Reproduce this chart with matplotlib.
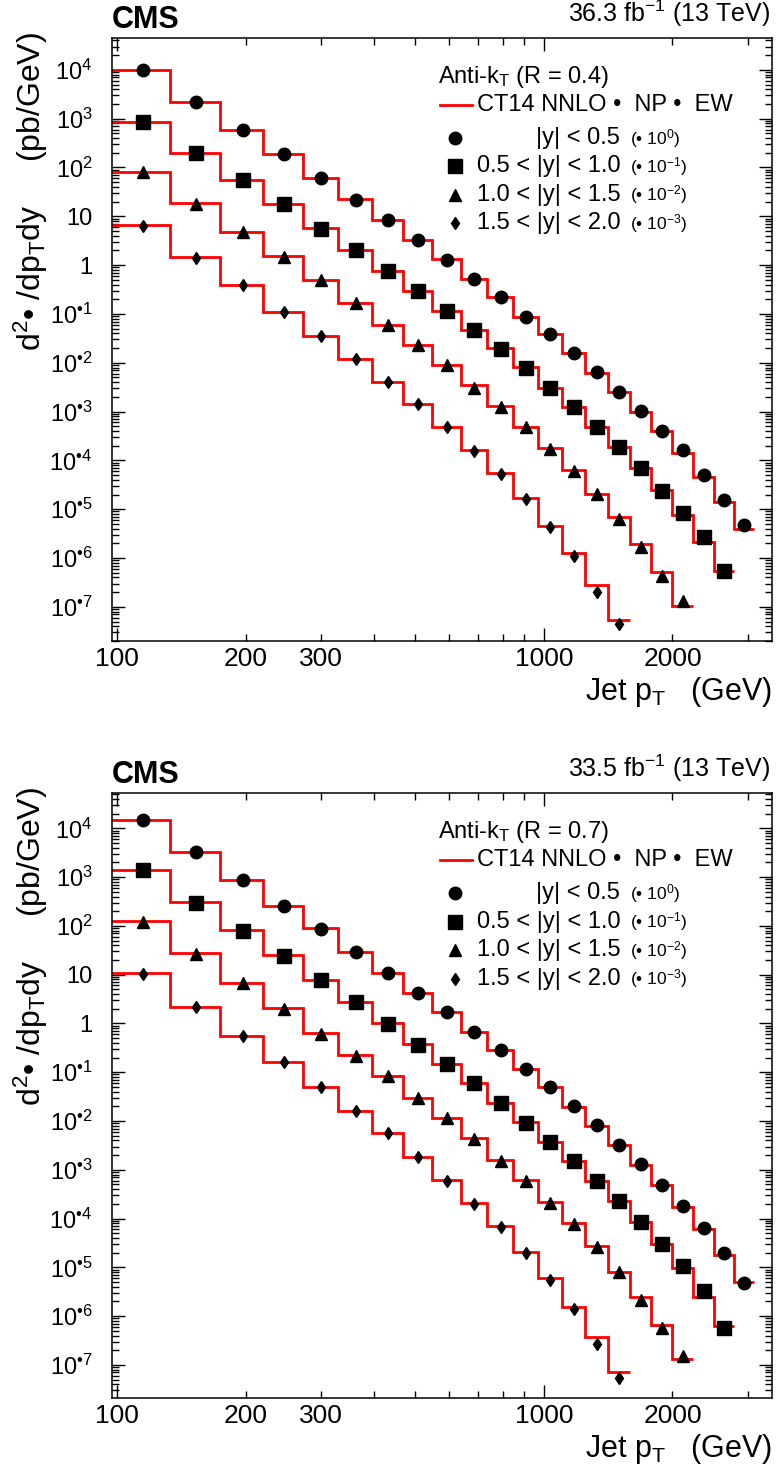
import numpy as np
import matplotlib.pyplot as plt
from matplotlib.lines import Line2D
from matplotlib.ticker import FixedLocator, FixedFormatter, LogLocator, NullFormatter

plt.rcParams['font.family'] = ['Liberation Sans', 'DejaVu Sans']
plt.rcParams['mathtext.fontset'] = 'custom'
plt.rcParams['mathtext.rm'] = 'Liberation Sans'
plt.rcParams['mathtext.it'] = 'Liberation Sans:italic'
plt.rcParams['mathtext.bf'] = 'Liberation Sans:bold'

# jet pT bin edges (GeV)
pt_edges = [97, 133, 174, 220, 272, 330, 395, 468, 548, 638, 737, 846, 967,
            1101, 1248, 1410, 1588, 1784, 2000, 2238, 2500, 2787, 3103]

# R = 0.4, theory (CT14 NNLO x NP x EW), already scaled by 10^-k
th04_y0 = [9.7e3, 2.24e3, 590, 190, 62, 22.4, 8.4, 3.28, 1.32, 0.52, 0.226, 0.088, 0.039,
           0.0161, 6.3e-3, 2.5e-3, 1.0e-3, 4.0e-4, 1.44e-4, 4.6e-5, 1.43e-5, 3.9e-6]
th04_y1 = [860, 202, 56, 17.7, 5.7, 2.05, 0.76, 0.30, 0.117, 0.047, 0.0198, 8.1e-3, 3.1e-3,
           1.24e-3, 4.9e-4, 1.9e-4, 6.9e-5, 2.45e-5, 7.6e-6, 2.16e-6, 5.5e-7]
th04_y2 = [82, 18.5, 4.85, 1.55, 0.50, 0.171, 0.060, 0.0235, 9.2e-3, 3.45e-3, 1.30e-3, 4.9e-4,
           1.77e-4, 6.35e-5, 2.1e-5, 7.0e-6, 1.9e-6, 5.1e-7, 1.05e-7]
th04_y3 = [6.6, 1.44, 0.40, 0.111, 0.036, 0.012, 4.1e-3, 1.45e-3, 4.9e-4, 1.63e-4, 5.4e-5,
           1.67e-5, 4.6e-6, 1.25e-6, 2.8e-7, 5.5e-8]

# R = 0.4, data
da04_y0 = [9.8e3, 2.2e3, 590, 190, 61, 22.0, 8.3, 3.2, 1.30, 0.51, 0.222, 0.087, 0.039,
           0.0160, 6.4e-3, 2.55e-3, 1.02e-3, 4.1e-4, 1.6e-4, 5.1e-5, 1.55e-5, 4.7e-6]
da04_y1 = [850, 200, 55, 17.5, 5.6, 2.0, 0.75, 0.30, 0.115, 0.046, 0.0195, 8.0e-3, 3.0e-3,
           1.22e-3, 4.9e-4, 1.85e-4, 6.9e-5, 2.4e-5, 8.5e-6, 2.65e-6, 5.4e-7]
da04_y2 = [80, 18.0, 4.7, 1.5, 0.49, 0.167, 0.059, 0.023, 9.0e-3, 3.1e-3, 1.25e-3, 4.8e-4,
           1.72e-4, 6.2e-5, 2.05e-5, 6.3e-6, 1.7e-6, 4.3e-7, 1.29e-7]
da04_y3 = [6.4, 1.40, 0.39, 0.108, 0.035, 0.0118, 4.0e-3, 1.42e-3, 4.8e-4, 1.58e-4, 5.2e-5,
           1.6e-5, 4.4e-6, 1.1e-6, 1.98e-7, 4.4e-8]

# R = 0.7, theory
th07_y0 = [1.48e4, 3.31e3, 873, 256, 89, 29.6, 11.0, 4.3, 1.72, 0.68, 0.286, 0.117, 0.0493,
           0.0197, 8.05e-3, 3.24e-3, 1.26e-3, 4.9e-4, 1.76e-4, 6.1e-5, 1.8e-5, 4.9e-6]
th07_y1 = [1.40e3, 309, 82, 25.4, 7.8, 2.8, 1.0, 0.38, 0.15, 0.0595, 0.0238, 9.4e-3, 3.8e-3,
           1.55e-3, 6.0e-4, 2.34e-4, 8.7e-5, 3.0e-5, 9.6e-6, 2.5e-6, 6.3e-7]
th07_y2 = [126, 27.4, 6.85, 2.05, 0.63, 0.226, 0.084, 0.030, 0.0118, 4.4e-3, 1.6e-3, 6.2e-4,
           2.23e-4, 8.0e-5, 2.75e-5, 8.2e-6, 2.5e-6, 6.6e-7, 1.3e-7]
th07_y3 = [10.7, 2.21, 0.555, 0.165, 0.0507, 0.0163, 5.8e-3, 1.86e-3, 6.2e-4, 2.07e-4, 6.9e-5,
           2.1e-5, 6.0e-6, 1.57e-6, 3.7e-7, 7.0e-8]

# R = 0.7, data
da07_y0 = [1.46e4, 3.25e3, 860, 250, 87, 29.0, 10.8, 4.25, 1.70, 0.67, 0.28, 0.117, 0.0495,
           0.020, 8.2e-3, 3.3e-3, 1.3e-3, 4.9e-4, 1.8e-4, 6.5e-5, 2.0e-5, 4.8e-6]
da07_y1 = [1.38e3, 300, 79, 24.5, 7.6, 2.75, 0.98, 0.37, 0.148, 0.059, 0.0238, 9.2e-3, 3.75e-3,
           1.55e-3, 5.9e-4, 2.3e-4, 8.7e-5, 3.0e-5, 1.07e-5, 3.3e-6, 5.7e-7]
da07_y2 = [122, 26.5, 6.7, 2.0, 0.62, 0.22, 0.082, 0.029, 0.0113, 4.2e-3, 1.55e-3, 5.9e-4,
           2.13e-4, 7.6e-5, 2.65e-5, 8.1e-6, 2.16e-6, 5.7e-7, 1.55e-7]
da07_y3 = [10.3, 2.15, 0.545, 0.162, 0.050, 0.016, 5.6e-3, 1.82e-3, 6.0e-4, 2.0e-4, 6.7e-5,
           2.0e-5, 5.6e-6, 1.4e-6, 2.7e-7, 5.4e-8]

rap_labels = ['|y| < 0.5', '0.5 < |y| < 1.0', '1.0 < |y| < 1.5', '1.5 < |y| < 2.0']
scale_labels = [r'(• 10$^{0}$)', r'(• 10$^{-1}$)', r'(• 10$^{-2}$)', r'(• 10$^{-3}$)']
markers = ['o', 's', '^', 'd']
msizes = [9, 9.5, 9, 6.2]

y_ticks = [1e4, 1e3, 1e2, 10, 1, 1e-1, 1e-2, 1e-3, 1e-4, 1e-5, 1e-6, 1e-7]
y_ticklabels = [r'$10^{4}$', r'$10^{3}$', r'$10^{2}$', '10', '1',
                r'$10^{•1}$', r'$10^{•2}$', r'$10^{•3}$', r'$10^{•4}$',
                r'$10^{•5}$', r'$10^{•6}$', r'$10^{•7}$']
x_minor = [200, 300, 400, 500, 600, 700, 800, 900, 2000, 3000]
x_minor_labels = ['200', '300', '', '', '', '', '', '', '2000', '']


def draw_panel(ax, theory, data, radius, lumi, ylim):
    edges = np.array(pt_edges, dtype=float)
    centers = 0.5 * (edges[:-1] + edges[1:])
    for th, da, mk, ms in zip(theory, data, markers, msizes):
        nb = len(th)
        ax.stairs(th, edges[:nb + 1], baseline=None, color='#ff0000', lw=2.0, zorder=2)
        ax.plot(centers[:nb], da, ls='none', marker=mk, ms=ms, color='black', zorder=3)

    ax.set_xscale('log')
    ax.set_yscale('log')
    ax.set_xlim(97.3, 3420)
    ax.set_ylim(*ylim)

    ax.xaxis.set_major_locator(FixedLocator([100, 1000]))
    ax.xaxis.set_major_formatter(FixedFormatter(['100', '1000']))
    ax.xaxis.set_minor_locator(FixedLocator(x_minor))
    ax.xaxis.set_minor_formatter(FixedFormatter(x_minor_labels))
    ax.yaxis.set_major_locator(FixedLocator(y_ticks))
    ax.yaxis.set_major_formatter(FixedFormatter(y_ticklabels))
    ax.yaxis.set_minor_locator(LogLocator(base=10, subs=range(2, 10), numticks=100))
    ax.yaxis.set_minor_formatter(NullFormatter())

    ax.tick_params(which='both', direction='in', top=True, right=True, width=1.0)
    ax.tick_params(which='major', length=9.5)
    ax.tick_params(which='minor', length=5)
    ax.tick_params(axis='x', which='both', labelsize=19, pad=4)
    ax.tick_params(axis='y', which='both', labelsize=17, pad=14)
    for sp in ax.spines.values():
        sp.set_linewidth(1.1)

    ax.text(0.0, 1.017, 'CMS', transform=ax.transAxes, fontsize=22, fontweight='bold',
            ha='left', va='baseline')
    ax.text(0.997, 1.026, lumi, transform=ax.transAxes, fontsize=18, ha='right', va='baseline')
    ax.text(-0.123, 1.01, r'd$^{2}$• /dp$_{\mathrm{T}}$dy     (pb/GeV)', transform=ax.transAxes,
            fontsize=23, rotation=90, ha='center', va='top')
    ax.text(1.0, -0.098, r'Jet p$_{\mathrm{T}}$   (GeV)', transform=ax.transAxes, fontsize=22,
            ha='right', va='baseline')

    # legend, drawn by hand to keep the ROOT layout
    ax.text(0.494, 0.936, r'Anti-k$_{\mathrm{T}}$ (R = %s)' % radius, transform=ax.transAxes,
            fontsize=17, ha='left', va='center')
    ax.add_line(Line2D([0.497, 0.545], [0.889, 0.889], transform=ax.transAxes,
                       color='#ff0000', lw=2.0))
    ax.text(0.553, 0.889, 'CT14 NNLO •  NP •  EW', transform=ax.transAxes, fontsize=17,
            ha='left', va='center')
    rows = [0.834, 0.787, 0.740, 0.693]
    for yr, mk, ms, lab, sc in zip(rows, markers, msizes, rap_labels, scale_labels):
        ax.add_line(Line2D([0.520], [yr], transform=ax.transAxes, ls='none', marker=mk,
                           ms=ms, color='black'))
        ax.text(0.770, yr, lab, transform=ax.transAxes, fontsize=17, ha='right', va='center')
        ax.text(0.785, yr, sc, transform=ax.transAxes, fontsize=12.5, ha='left', va='center')


fig = plt.figure(figsize=(7.77, 14.77), dpi=100)
ax_top = fig.add_axes([0.1441, 0.5660, 0.8494, 0.4083])
ax_bot = fig.add_axes([0.1441, 0.0535, 0.8494, 0.4096])

draw_panel(ax_top, [th04_y0, th04_y1, th04_y2, th04_y3],
           [da04_y0, da04_y1, da04_y2, da04_y3], '0.4',
           r'36.3 fb$^{-1}$ (13 TeV)', (2.0e-8, 4.5e4))
draw_panel(ax_bot, [th07_y0, th07_y1, th07_y2, th07_y3],
           [da07_y0, da07_y1, da07_y2, da07_y3], '0.7',
           r'33.5 fb$^{-1}$ (13 TeV)', (2.1e-8, 5.3e4))

fig.savefig('out.png', dpi=100)
